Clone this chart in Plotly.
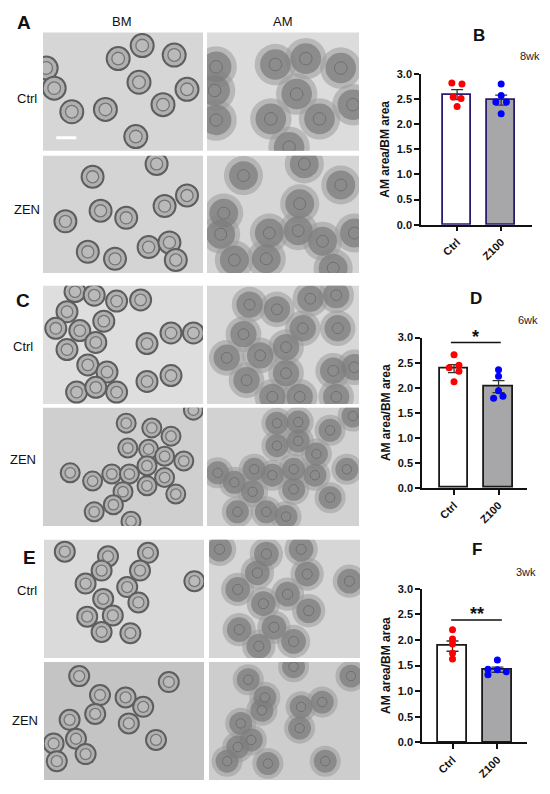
import plotly.graph_objects as go

# ---- bar chart data ----
groups = ["Ctrl", "Z100"]
weeks = ["8wk", "6wk", "3wk"]
panel_letters = ["B", "D", "F"]

means_8wk = [2.59, 2.48]
sem_8wk = [0.10, 0.10]
ctrl_8wk = [2.82, 2.80, 2.54, 2.51, 2.35]
ctrl_8wk_dx = [-0.12, 0.11, -0.09, 0.09, 0.0]
z100_8wk = [2.80, 2.57, 2.44, 2.44, 2.21]
z100_8wk_dx = [0.0, 0.0, -0.12, 0.12, 0.0]

means_6wk = [2.38, 2.02]
sem_6wk = [0.08, 0.12]
ctrl_6wk = [2.66, 2.45, 2.40, 2.33, 2.12]
ctrl_6wk_dx = [0.0, 0.11, -0.11, 0.11, 0.0]
z100_6wk = [2.36, 2.23, 1.94, 1.83, 1.79]
z100_6wk_dx = [0.0, 0.0, 0.0, 0.10, -0.11]

means_3wk = [1.88, 1.42]
sem_3wk = [0.10, 0.05]
ctrl_3wk = [2.20, 2.02, 1.92, 1.74, 1.63]
ctrl_3wk_dx = [0.0, 0.0, 0.0, 0.0, 0.0]
z100_3wk = [1.61, 1.43, 1.42, 1.38, 1.32]
z100_3wk_dx = [0.0, -0.21, 0.0, 0.20, -0.21]

# significance marks: (label, bar height, x start, x end)
sig_6wk = ["*", 2.90, -0.07, 1.05]
sig_3wk = ["**", 2.39, -0.03, 1.10]

# ---- micrograph sketches: spheroid centres (fraction of image width/height) ----
a_bm_ctrl_u = [0.62, 0.47, 0.82, 0.02, 0.07, 0.60, 0.90, 0.18, 0.39, 0.75, 0.58]
a_bm_ctrl_v = [0.89, 0.78, 0.81, 0.70, 0.53, 0.58, 0.52, 0.33, 0.35, 0.39, 0.12]
a_am_ctrl_u = [0.06, 0.05, 0.06, 0.45, 0.65, 0.88, 0.59, 0.42, 0.74, 0.96, 0.54]
a_am_ctrl_v = [0.71, 0.51, 0.26, 0.73, 0.78, 0.70, 0.48, 0.27, 0.27, 0.39, 0.03]
a_bm_zen_u = [0.71, 0.31, 0.90, 0.76, 0.36, 0.52, 0.14, 0.66, 0.79, 0.28, 0.45, 0.83]
a_bm_zen_v = [0.93, 0.82, 0.66, 0.57, 0.53, 0.47, 0.44, 0.22, 0.26, 0.18, 0.12, 0.11]
a_am_zen_u = [0.24, 0.64, 0.88, 0.61, 0.11, 0.09, 0.41, 0.60, 0.76, 0.97, 0.18, 0.39, 0.83]
a_am_zen_v = [0.83, 0.93, 0.75, 0.59, 0.51, 0.33, 0.34, 0.36, 0.27, 0.34, 0.11, 0.12, 0.04]

c_bm_ctrl_u = [0.20, 0.32, 0.46, 0.61, 0.15, 0.08, 0.23, 0.38, 0.33, 0.15,
               0.65, 0.80, 0.94, 0.28, 0.40, 0.46, 0.21, 0.33, 0.65, 0.80]
c_bm_ctrl_v = [0.95, 0.92, 0.87, 0.88, 0.78, 0.64, 0.62, 0.70, 0.52, 0.46,
               0.51, 0.60, 0.60, 0.33, 0.27, 0.10, 0.10, 0.14, 0.19, 0.24]
c_am_ctrl_u = [0.28, 0.46, 0.68, 0.85, 0.24, 0.63, 0.86, 0.13, 0.35,
               0.52, 0.52, 0.26, 0.83, 0.97, 0.43, 0.61, 0.85]
c_am_ctrl_v = [0.84, 0.80, 0.89, 0.92, 0.59, 0.64, 0.64, 0.39, 0.41,
               0.48, 0.26, 0.20, 0.28, 0.31, 0.06, 0.06, 0.06]
c_bm_zen_u = [0.94, 0.52, 0.68, 0.80, 0.53, 0.66, 0.76, 0.88, 0.17, 0.31,
              0.43, 0.54, 0.65, 0.76, 0.65, 0.50, 0.83, 0.44, 0.32, 0.55]
c_bm_zen_v = [0.98, 0.87, 0.83, 0.76, 0.66, 0.65, 0.59, 0.55, 0.45, 0.38,
              0.44, 0.44, 0.51, 0.41, 0.34, 0.29, 0.27, 0.18, 0.12, 0.04]
c_am_zen_u = [0.46, 0.60, 0.81, 0.96, 0.46, 0.60, 0.72, 0.07, 0.18, 0.31,
              0.43, 0.57, 0.57, 0.71, 0.92, 0.81, 0.30, 0.20, 0.39, 0.52]
c_am_zen_v = [0.87, 0.88, 0.81, 0.93, 0.68, 0.72, 0.61, 0.45, 0.37, 0.48,
              0.43, 0.48, 0.31, 0.43, 0.48, 0.24, 0.29, 0.12, 0.12, 0.08]

e_bm_ctrl_u = [0.13, 0.40, 0.65, 0.36, 0.60, 0.26, 0.52, 0.94, 0.37, 0.59, 0.27, 0.43, 0.36, 0.54]
e_bm_ctrl_v = [0.90, 0.86, 0.89, 0.74, 0.74, 0.63, 0.60, 0.65, 0.50, 0.47, 0.35, 0.36, 0.22, 0.21]
e_am_ctrl_u = [0.07, 0.38, 0.61, 0.32, 0.65, 0.19, 0.52, 0.93, 0.36, 0.66, 0.43, 0.20, 0.56, 0.33]
e_am_ctrl_v = [0.92, 0.88, 0.92, 0.72, 0.71, 0.58, 0.54, 0.65, 0.46, 0.40, 0.26, 0.24, 0.14, 0.10]
e_bm_zen_u = [0.22, 0.78, 0.35, 0.51, 0.62, 0.32, 0.16, 0.53, 0.20, 0.70, 0.06, 0.26, 0.08]
e_bm_zen_v = [0.88, 0.83, 0.72, 0.70, 0.62, 0.56, 0.51, 0.48, 0.35, 0.34, 0.31, 0.22, 0.16]
e_am_zen_u = [0.56, 0.26, 0.94, 0.37, 0.35, 0.75, 0.61, 0.21, 0.60, 0.28, 0.19, 0.12, 0.39, 0.77]
e_am_zen_v = [0.96, 0.85, 0.88, 0.70, 0.59, 0.66, 0.62, 0.48, 0.44, 0.34, 0.28, 0.16, 0.14, 0.16]

scale_bar_u = [0.083, 0.208]
scale_bar_v = [0.11, 0.11]

W, H = 550, 794


def px_x(a, b):
    return [a / W, b / W]


def px_y(top, bottom):
    return [1 - bottom / H, 1 - top / H]


fig = go.Figure()

# ---------------- bar charts ----------------
bar_panels = [
    dict(means=means_8wk, sem=sem_8wk, ctrl=ctrl_8wk, cdx=ctrl_8wk_dx, z=z100_8wk, zdx=z100_8wk_dx,
         sig=None, xd=px_x(421, 532), yd=px_y(69, 222), xr=[-0.82, 1.70], edge="#2e1a6e"),
    dict(means=means_6wk, sem=sem_6wk, ctrl=ctrl_6wk, cdx=ctrl_6wk_dx, z=z100_6wk, zdx=z100_6wk_dx,
         sig=sig_6wk, xd=px_x(422, 527), yd=px_y(336.7, 489.3), xr=[-0.72, 1.64], edge="#1a1a1a"),
    dict(means=means_3wk, sem=sem_3wk, ctrl=ctrl_3wk, cdx=ctrl_3wk_dx, z=z100_3wk, zdx=z100_3wk_dx,
         sig=sig_3wk, xd=px_x(422, 527), yd=px_y(591.7, 747.7), xr=[-0.68, 1.66], edge="#1a1a1a"),
]
# letter / age label positions in pixels
letter_pos = [(479, 30), (476, 297), (477, 552)]
age_pos = [(530, 51), (528, 319), (526, 575)]

annotations = []
shapes = []
layout_axes = {}

for i, p in enumerate(bar_panels):
    n = "" if i == 0 else str(i + 1)
    xa, ya = "x" + n, "y" + n
    fig.add_trace(go.Bar(
        x=[0, 1], y=p["means"], width=0.64, xaxis=xa, yaxis=ya,
        marker=dict(color=["white", "#a7a7a9"], line=dict(color=p["edge"], width=1.8)),
        error_y=dict(type="data", array=p["sem"], color="#333333", thickness=1.3, width=6),
        showlegend=False, hoverinfo="skip",
    ))
    fig.add_trace(go.Scatter(
        x=[0 + d for d in p["cdx"]], y=p["ctrl"], mode="markers", xaxis=xa, yaxis=ya,
        marker=dict(color="#ff0000", size=7), showlegend=False, cliponaxis=False,
    ))
    fig.add_trace(go.Scatter(
        x=[1 + d for d in p["zdx"]], y=p["z"], mode="markers", xaxis=xa, yaxis=ya,
        marker=dict(color="#0000ff", size=7), showlegend=False, cliponaxis=False,
    ))
    if p["sig"]:
        label, h, x0, x1 = p["sig"]
        fig.add_trace(go.Scatter(
            x=[x0, x1], y=[h, h], mode="lines", xaxis=xa, yaxis=ya,
            line=dict(color="#111111", width=1.5), showlegend=False, cliponaxis=False,
        ))
        annotations.append(dict(x=(x0 + x1) / 2, y=h, xref=xa, yref=ya, text="<b>" + label + "</b>",
                                showarrow=False, xanchor="center", yanchor="bottom", yshift=-6,
                                font=dict(size=18, color="#111111")))
    layout_axes["xaxis" + n] = dict(
        domain=p["xd"], range=p["xr"], anchor=ya, showline=True, linecolor="#111111", linewidth=1.5,
        tickvals=[0, 1], ticktext=groups, tickangle=-45, ticks="outside", ticklen=5,
        tickwidth=1.5, tickcolor="#111111", showgrid=False, zeroline=False,
        tickfont=dict(size=11, color="#111111", weight="bold"),
    )
    layout_axes["yaxis" + n] = dict(
        domain=p["yd"], range=[0, 3], anchor=xa, showline=True, linecolor="#111111", linewidth=1.5,
        tickvals=[0, 0.5, 1, 1.5, 2, 2.5, 3], tickformat=".1f", ticks="outside", ticklen=5,
        tickwidth=1.5, tickcolor="#111111", showgrid=False, zeroline=False,
        tickfont=dict(size=11, color="#111111", weight="bold"),
        title=dict(text="AM area/BM area", font=dict(size=12, color="#111111", weight="bold"), standoff=5),
    )
    lx, ly = letter_pos[i]
    annotations.append(dict(x=lx / W, y=1 - ly / H, xref="paper", yref="paper",
                            text="<b>" + panel_letters[i] + "</b>", showarrow=False,
                            xanchor="center", yanchor="middle", font=dict(size=17, color="#111111")))
    wx, wy = age_pos[i]
    annotations.append(dict(x=wx / W, y=1 - wy / H, xref="paper", yref="paper", text=weeks[i],
                            showarrow=False, xanchor="center", yanchor="middle",
                            font=dict(size=11, color="#222222")))

# ---------------- micrograph panels ----------------
images = [
    # (u, v, kind, x-domain px, y-domain px, background, spheroid size)
    (a_bm_ctrl_u, a_bm_ctrl_v, "bm", (43, 203), (27, 147), "#d6d6d6", 23),
    (a_am_ctrl_u, a_am_ctrl_v, "am", (207, 359), (27, 147), "#dcdcdc", 36),
    (a_bm_zen_u, a_bm_zen_v, "bm", (43, 203), (152, 271), "#d4d4d4", 22),
    (a_am_zen_u, a_am_zen_v, "am", (207, 359), (152, 271), "#d6d6d6", 34),
    (c_bm_ctrl_u, c_bm_ctrl_v, "bm", (43, 203), (284, 404), "#dedede", 21),
    (c_am_ctrl_u, c_am_ctrl_v, "am", (207, 359), (284, 404), "#d8d8d8", 31),
    (c_bm_zen_u, c_bm_zen_v, "bm", (43, 203), (408, 528), "#cfcfcf", 19),
    (c_am_zen_u, c_am_zen_v, "am", (207, 359), (408, 528), "#d2d2d2", 27),
    (e_bm_ctrl_u, e_bm_ctrl_v, "bm", (44, 204), (542, 662), "#dadada", 20),
    (e_am_ctrl_u, e_am_ctrl_v, "am", (209, 360), (542, 662), "#d6d6d6", 29),
    (e_bm_zen_u, e_bm_zen_v, "bm", (44, 204), (666, 786), "#c4c4c4", 20),
    (e_am_zen_u, e_am_zen_v, "am", (209, 360), (666, 786), "#cdcdcd", 27),
]

for k, (u, v, kind, xd, yd, bg, size) in enumerate(images):
    n = str(k + 4)
    xa, ya = "x" + n, "y" + n
    shapes.append(dict(type="rect", xref=xa + " domain", yref=ya + " domain", x0=0, x1=1, y0=0, y1=1,
                       fillcolor=bg, line=dict(width=0), layer="below"))
    if kind == "bm":
        fig.add_trace(go.Scatter(x=u, y=v, mode="markers", xaxis=xa, yaxis=ya, showlegend=False,
                                 marker=dict(size=size, color="#b0b0b0",
                                             line=dict(color="#5e5e5e", width=2))))
        fig.add_trace(go.Scatter(x=u, y=v, mode="markers", xaxis=xa, yaxis=ya, showlegend=False,
                                 marker=dict(size=size * 0.55, color="#bababa",
                                             line=dict(color="#757575", width=1.3))))
    else:
        fig.add_trace(go.Scatter(x=u, y=v, mode="markers", xaxis=xa, yaxis=ya, showlegend=False,
                                 marker=dict(size=size * 1.15, color="#9a9a9a", opacity=0.55,
                                             line=dict(width=0))))
        fig.add_trace(go.Scatter(x=u, y=v, mode="markers", xaxis=xa, yaxis=ya, showlegend=False,
                                 marker=dict(size=size * 0.85, color="#7d7d7d", opacity=0.75,
                                             line=dict(width=0))))
        fig.add_trace(go.Scatter(x=u, y=v, mode="markers", xaxis=xa, yaxis=ya, showlegend=False,
                                 marker=dict(size=size * 0.35, color="#8c8c8c", opacity=0.8,
                                             line=dict(color="#6a6a6a", width=1))))
    if k == 0:
        fig.add_trace(go.Scatter(x=scale_bar_u, y=scale_bar_v, mode="lines", xaxis=xa, yaxis=ya,
                                 showlegend=False, line=dict(color="white", width=3)))
    ax = dict(range=[0, 1], showgrid=False, zeroline=False, showticklabels=False, ticks="",
              showline=False, fixedrange=True)
    layout_axes["xaxis" + n] = dict(ax, domain=px_x(*xd), anchor=ya)
    layout_axes["yaxis" + n] = dict(ax, domain=px_y(*yd), anchor=xa)

# text labels around micrographs (pixel centres in the reference)
left_labels = [
    ("<b>A</b>", 24, 17, 19), ("BM", 122, 16, 13), ("AM", 283, 16, 13),
    ("Ctrl", 27, 94, 13), ("ZEN", 27, 207, 13),
    ("<b>C</b>", 23, 299, 19), ("Ctrl", 23, 346, 13), ("ZEN", 23, 460, 13),
    ("<b>E</b>", 29, 560, 19), ("Ctrl", 27, 593, 13), ("ZEN", 25, 725, 13),
]
for text, x, y, s in left_labels:
    annotations.append(dict(x=x / W, y=1 - y / H, xref="paper", yref="paper", text=text,
                            showarrow=False, xanchor="center", yanchor="middle",
                            font=dict(size=s, color="#111111")))

fig.update_layout(
    width=W, height=H, margin=dict(l=0, r=0, t=0, b=0),
    paper_bgcolor="white", plot_bgcolor="rgba(0,0,0,0)",
    font=dict(family="Arial, Liberation Sans, sans-serif", color="#111111"),
    showlegend=False, annotations=annotations, shapes=shapes, bargap=0,
    **layout_axes,
)

fig.write_html("out.html", config={"displayModeBar": False},
               post_script="document.body.style.margin='0';")
